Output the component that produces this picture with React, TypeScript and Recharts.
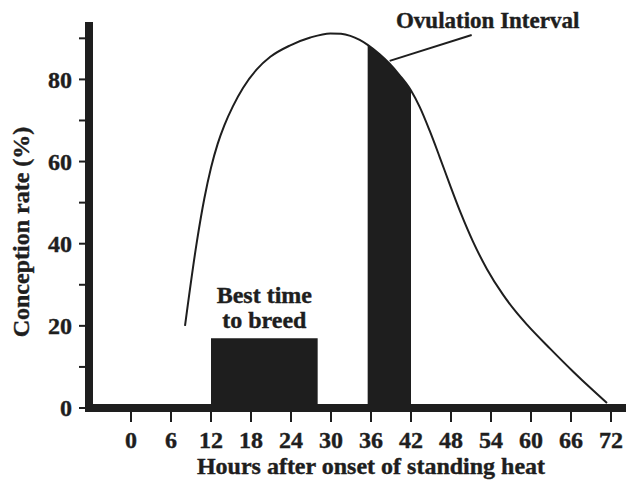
import { ComposedChart, Line, Area, XAxis, YAxis, ReferenceArea, ReferenceLine, ReferenceDot, Label } from 'recharts'

const INK = '#1e1e1e'
const FONT = '"Liberation Serif", "Times New Roman", serif'

// curve: hours after onset, conception rate %
const HOURS = [8.1, 9.9, 11.0, 12.0, 13.0, 14.0, 15.3, 16.8, 18.9, 20.9, 23.9, 26.9, 29.9, 31.5, 32.9, 34.3, 35.5, 37.3, 38.8, 40.3, 42, 43.3, 44.8, 46.3, 47.8, 49.5, 51.3, 53.4, 55.8, 57.6, 59.4, 62.9, 66.3, 69.3, 71.4]
const RATE = [20, 40.7, 51, 58.5, 64.3, 68.8, 73.5, 77.9, 82.5, 85.5, 88.3, 90.2, 91.2, 91.1, 90.6, 89.6, 88.4, 86.1, 83.8, 81.0, 77.3, 73.3, 67.5, 61.1, 54.5, 47.3, 40.5, 33.8, 27.6, 23.7, 20.3, 14.4, 8.9, 4.3, 1.2]

const OVULATION = [35.5, 42]
const BEST_TIME = [12, 28]
const BEST_TIME_RATE = 17

const X_TICKS = [0, 6, 12, 18, 24, 30, 36, 42, 48, 54, 60, 66, 72]
const Y_TICKS = [0, 10, 20, 30, 40, 50, 60, 70, 80, 90]
const Y_LABELS = [0, 20, 40, 60, 80]

const LEADER = [{ x: 38.8, y: 84.5 }, { x: 51.1, y: 90.8 }]
const OVULATION_LABEL = { x: 53.5, y: 92.5 }

const data = HOURS.map((h, i) => ({
  h,
  rate: RATE[i],
  ovulation: h >= OVULATION[0] && h <= OVULATION[1] ? RATE[i] : null,
}))

// scanned bold type looks heavy, a hairline stroke thickens it a bit
const textStyle = { fontFamily: FONT, fontWeight: 700, fill: INK, stroke: INK, strokeWidth: 0.4 }

function XTick({ x, y, payload }: any) {
  return (
    <text x={x} y={y} textAnchor="middle" dy="0.35em" fontSize={24} style={textStyle}>
      {payload.value}
    </text>
  )
}

function YTick({ x, y, payload }: any) {
  if (!Y_LABELS.includes(payload.value)) return <g />
  return (
    <text x={x} y={y} textAnchor="end" dy="0.35em" fontSize={24} style={textStyle}>
      {payload.value}
    </text>
  )
}

function BestTimeLabel({ viewBox }: any) {
  const cx = viewBox.x + viewBox.width / 2
  return (
    <g>
      <text x={cx} y={viewBox.y - 35} textAnchor="middle" fontSize={24} style={textStyle}>Best time</text>
      <text x={cx} y={viewBox.y - 10} textAnchor="middle" fontSize={24} style={textStyle}>to breed</text>
    </g>
  )
}

function OvulationLabel({ viewBox }: any) {
  return (
    <text x={viewBox.x} y={viewBox.y} textAnchor="middle" fontSize={23} style={textStyle}>
      Ovulation Interval
    </text>
  )
}

export default function App() {
  return (
    <div style={{ position: 'absolute', left: 0, top: 0, background: '#fff' }}>
      <ComposedChart width={626} height={484} data={data} margin={{ top: 26, right: 0, bottom: 0, left: 0 }}>
        <XAxis
          type="number"
          dataKey="h"
          domain={[-6.3, 74.25]}
          ticks={X_TICKS}
          interval={0}
          axisLine={{ stroke: INK, strokeWidth: 8 }}
          tickLine={{ stroke: INK, strokeWidth: 2 }}
          tickSize={14}
          tickMargin={18}
          tick={XTick}
          height={76}
        >
          <Label
            content={() => (
              <text x={371} y={474} textAnchor="middle" fontSize={24} style={textStyle}>
                Hours after onset of standing heat
              </text>
            )}
          />
        </XAxis>
        <YAxis
          type="number"
          domain={[0, 93]}
          ticks={Y_TICKS}
          interval={0}
          axisLine={{ stroke: INK, strokeWidth: 8, strokeLinecap: 'square' }}
          tickLine={{ stroke: INK, strokeWidth: 2 }}
          tickSize={10}
          tickMargin={7}
          tick={YTick}
          width={89}
        >
          <Label
            content={() => (
              <text x={29} y={232} transform="rotate(-90 29 232)" textAnchor="middle" fontSize={24} style={textStyle}>
                Conception rate (%)
              </text>
            )}
          />
        </YAxis>
        <ReferenceArea
          x1={BEST_TIME[0]}
          x2={BEST_TIME[1]}
          y1={0}
          y2={BEST_TIME_RATE}
          fill={INK}
          fillOpacity={1}
          stroke="none"
          label={BestTimeLabel}
        />
        <Area
          type="monotone"
          dataKey="ovulation"
          baseValue={0}
          fill={INK}
          fillOpacity={1}
          stroke="none"
          dot={false}
          activeDot={false}
          isAnimationActive={false}
        />
        <Line
          type="monotone"
          dataKey="rate"
          stroke={INK}
          strokeWidth={2}
          dot={false}
          activeDot={false}
          isAnimationActive={false}
        />
        <ReferenceLine segment={LEADER} stroke={INK} strokeWidth={2} />
        <ReferenceDot
          x={OVULATION_LABEL.x}
          y={OVULATION_LABEL.y}
          r={0}
          fill="none"
          stroke="none"
          label={OvulationLabel}
        />
      </ComposedChart>
    </div>
  )
}
